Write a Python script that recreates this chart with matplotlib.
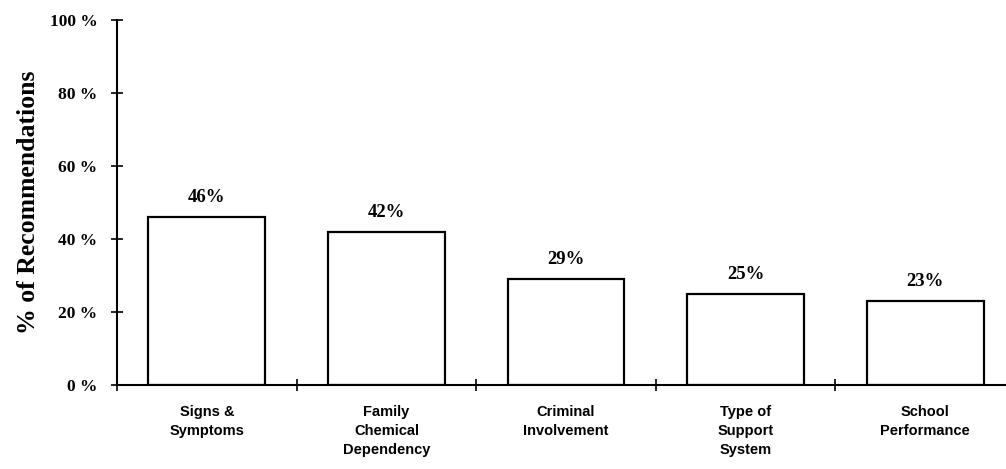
import matplotlib.pyplot as plt
from matplotlib import font_manager

# Datos del grafico
categorias = ['Signs &\nSymptoms', 'Family\nChemical\nDependency', 'Criminal\nInvolvement',
              'Type of\nSupport\nSystem', 'School\nPerformance']
porcentajes = [46, 42, 29, 25, 23]
etiquetas_y = ['0 %', '20 %', '40 %', '60 %', '80 %', '100 %']
valores_y = [0, 20, 40, 60, 80, 100]

# Fuente estrecha para las categorias si existe
nombres = {f.name for f in font_manager.fontManager.ttflist}
fuente_cat = 'Liberation Sans Narrow' if 'Liberation Sans Narrow' in nombres else 'Liberation Sans'

fig = plt.figure(figsize=(10.06, 4.69), dpi=100)
# el eje x sigue mas alla del borde derecho
ax = fig.add_axes([117 / 1006, 84 / 469, 889 / 1006, 365 / 469])

n = len(categorias)
centros = [i + 0.5 for i in range(n)]
ax.bar(centros, porcentajes, width=0.65, color='white', edgecolor='black', linewidth=1.6)

for c, v in zip(centros, porcentajes):
    ax.text(c, v + 3, f'{v}%', ha='center', va='bottom', fontsize=13.5,
            family='Liberation Serif', fontweight='bold')

ax.set_ylim(0, 100)
ax.set_xlim(0, n * 889 / 898)

ax.set_yticks(valores_y)
ax.set_yticklabels(etiquetas_y, family='Liberation Serif', fontweight='bold', fontsize=12.5)
ax.set_xticks(range(n))
ax.set_xticklabels([])
ax.tick_params(axis='both', direction='inout', length=8, width=1.2)
ax.tick_params(axis='y', pad=10)

# etiquetas de categoria bajo cada barra
for c, nombre in zip(centros, categorias):
    ax.text(c, -5.5, nombre, ha='center', va='top', fontsize=10.5, family=fuente_cat,
            fontweight='bold', linespacing=1.45, transform=ax.transData, clip_on=False)

ax.set_ylabel('% of Recommendations', family='Liberation Serif', fontweight='bold',
              fontsize=18.5, labelpad=7)

for lado in ['top', 'right']:
    ax.spines[lado].set_visible(False)
ax.spines['left'].set_linewidth(1.5)
ax.spines['bottom'].set_linewidth(1.5)

fig.savefig('out.png', dpi=100)
